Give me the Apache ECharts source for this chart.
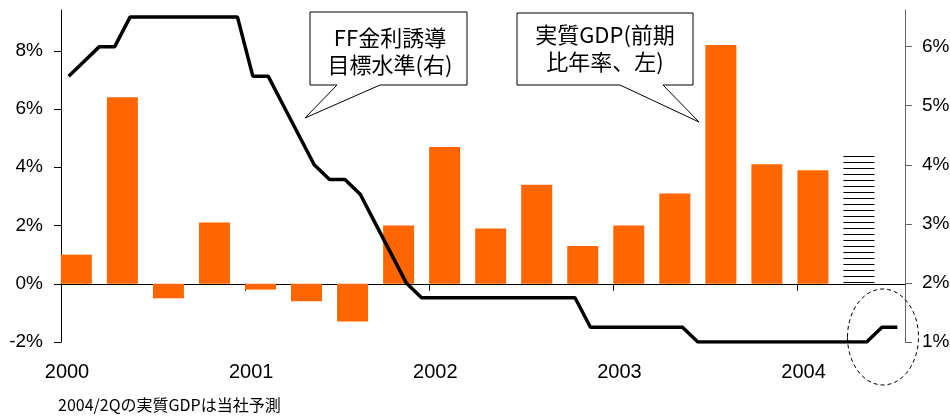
<!DOCTYPE html>
<html>
<head>
<meta charset="utf-8">
<script src="https://cdn.jsdelivr.net/npm/echarts@6.0.0/dist/echarts.min.js"></script>
<style>
html, body { margin: 0; padding: 0; background: #fff; }
#chart { width: 950px; height: 419px; }
</style>
</head>
<body>
<div id="chart"></div>
<script>
// quarterly real GDP (annualised q/q, left axis), 2004Q2 is a forecast
const quarters = ['2000Q1', '2000Q2', '2000Q3', '2000Q4', '2001Q1', '2001Q2', '2001Q3', '2001Q4',
  '2002Q1', '2002Q2', '2002Q3', '2002Q4', '2003Q1', '2003Q2', '2003Q3', '2003Q4', '2004Q1', '2004Q2'];
const gdp = [1.0, 6.4, -0.5, 2.1, -0.2, -0.6, -1.3, 2.0, 4.7, 1.9, 3.4, 1.3, 2.0, 3.1, 8.2, 4.1, 3.9, 4.4];
const forecastIndex = 17;

// FF target rate, monthly Jan 2000 .. Jul 2004 (right axis)
const ffRate = [
  5.5, 5.75, 6.0, 6.0, 6.5, 6.5, 6.5, 6.5, 6.5, 6.5, 6.5, 6.5,
  5.5, 5.5, 5.0, 4.5, 4.0, 3.75, 3.75, 3.5, 3.0, 2.5, 2.0, 1.75,
  1.75, 1.75, 1.75, 1.75, 1.75, 1.75, 1.75, 1.75, 1.75, 1.75, 1.25, 1.25,
  1.25, 1.25, 1.25, 1.25, 1.25, 1.0, 1.0, 1.0, 1.0, 1.0, 1.0, 1.0,
  1.0, 1.0, 1.0, 1.0, 1.0, 1.25, 1.25
];

const yearLabels = ['2000', '2001', '2002', '2003', '2004'];
const leftTicks = [-2, 0, 2, 4, 6, 8];
const rightTicks = [1, 2, 3, 4, 5, 6];

const numFont = '"Liberation Sans", Arial, sans-serif';
const jpFont = '"Noto Sans CJK JP", sans-serif';

// x axis is in months from Jan 2000; each quarter bar sits over its first two months
const barData = gdp.map(function (v, q) {
  if (q === forecastIndex) {
    return {
      value: [q * 3 + 1, v],
      itemStyle: {
        color: '#fff',
        decal: { symbol: 'rect', symbolSize: 1, dashArrayX: [1, 0], dashArrayY: [1, 5], rotation: 0, color: '#000' }
      }
    };
  }
  return [q * 3 + 1, v];
});
const lineData = ffRate.map(function (v, m) { return [m + 0.5, v]; });

const chart = echarts.init(document.getElementById('chart'));
chart.setOption({
  animation: false,
  grid: { left: 61, right: 45, top: 10, bottom: 77, containLabel: false, outerBoundsMode: 'none' },
  xAxis: {
    type: 'value', min: 0, max: 55,
    axisLine: { onZero: true, onZeroAxisIndex: 0, lineStyle: { color: '#000', width: 1 } },
    axisTick: { show: true, length: 7, customValues: [0, 12, 24, 36, 48], lineStyle: { color: '#000' } },
    axisLabel: {
      customValues: [0, 12, 24, 36, 48],
      formatter: function (v) { return yearLabels[Math.round(v / 12)]; },
      margin: 20, fontSize: 20, fontFamily: numFont, color: '#000', padding: [0, 0, 0, 12]
    },
    splitLine: { show: false }
  },
  yAxis: [{
    type: 'value', min: -2, max: 9.4, position: 'left',
    axisLine: { show: true, onZero: false, lineStyle: { color: '#000' } },
    axisTick: { show: true, length: 7, customValues: leftTicks, lineStyle: { color: '#000' } },
    axisLabel: { customValues: leftTicks, formatter: '{value}%', margin: 18, fontSize: 19, fontFamily: numFont, color: '#000' },
    splitLine: { show: false }
  }, {
    type: 'value', min: 1, max: 6.62, position: 'right',
    axisLine: { show: true, onZero: false, lineStyle: { color: '#666' } },
    axisTick: { show: true, length: 7, customValues: rightTicks, lineStyle: { color: '#666' } },
    axisLabel: { customValues: rightTicks, formatter: '{value}%', margin: 17, fontSize: 19, fontFamily: numFont, color: '#000' },
    splitLine: { show: false }
  }],
  series: [{
    name: '実質GDP', type: 'bar', yAxisIndex: 0, barWidth: 31,
    itemStyle: { color: '#ff6600' },
    data: barData
  }, {
    name: 'FF金利誘導目標水準', type: 'line', yAxisIndex: 1, showSymbol: false,
    lineStyle: { color: '#000', width: 3.5 },
    data: lineData, z: 5
  }],
  graphic: [
    {
      type: 'polygon', z: 100,
      shape: { points: [[310, 12], [467, 12], [467, 85], [380, 85], [305, 118], [337, 85], [310, 85]] },
      style: { fill: '#fff', stroke: '#000', lineWidth: 1 }
    },
    {
      type: 'text', z: 101, x: 390, y: 51,
      style: { text: 'FF金利誘導\n目標水準(右)', font: '22px ' + jpFont, fill: '#000', align: 'center', verticalAlign: 'middle', lineHeight: 27 }
    },
    {
      type: 'polygon', z: 100,
      shape: { points: [[517, 13], [693, 13], [693, 85], [663, 85], [699, 122], [620, 85], [517, 85]] },
      style: { fill: '#fff', stroke: '#000', lineWidth: 1 }
    },
    {
      type: 'text', z: 101, x: 605, y: 48,
      style: { text: '実質GDP(前期\n比年率、左)', font: '22px ' + jpFont, fill: '#000', align: 'center', verticalAlign: 'middle', lineHeight: 27 }
    },
    {
      type: 'ellipse', z: 100,
      shape: { cx: 883, cy: 337, rx: 35.5, ry: 48 },
      style: { fill: null, stroke: '#000', lineWidth: 1, lineDash: [4, 3] }
    },
    {
      type: 'text', z: 101, x: 58, y: 405,
      style: { text: '2004/2Qの実質GDPは当社予測', font: '16px ' + jpFont, fill: '#000', align: 'left', verticalAlign: 'middle' }
    }
  ]
});
</script>
</body>
</html>
